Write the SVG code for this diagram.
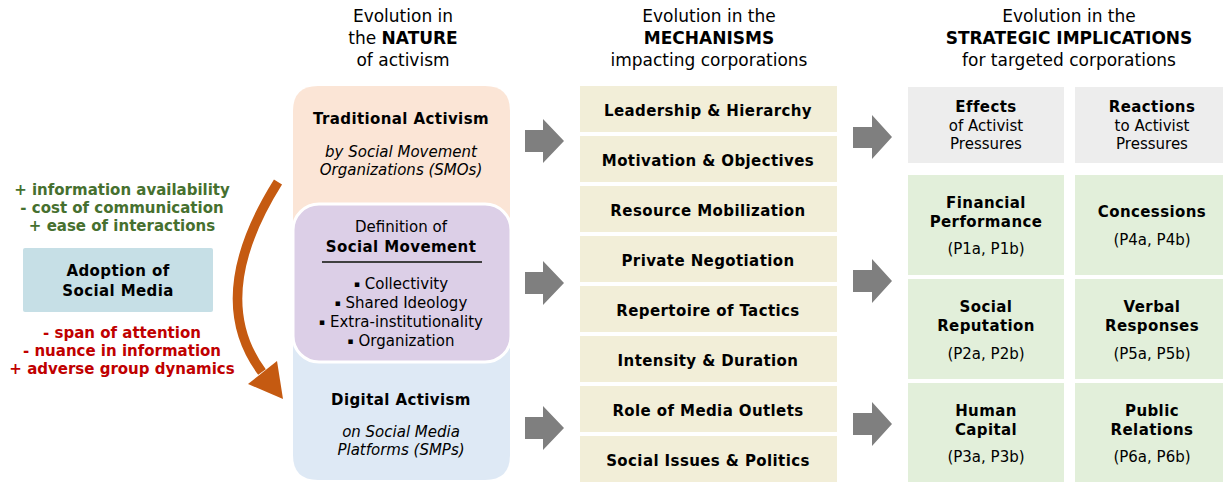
<svg xmlns="http://www.w3.org/2000/svg" width="1223" height="482" viewBox="0 0 1223 482">
  <defs>
    <style>
      text { font-family: "DejaVu Sans", Verdana, sans-serif; fill: #000; text-anchor: middle; }
      .hd { font-size: 17px; }
      .b { font-weight: bold; }
      .t { font-size: 15px; }
      .t.b { letter-spacing: 0.4px; }
      .it { font-style: italic; }
      .blt { font-size: 9px; }
      .mech { fill: #f2eed8; }
      .eff { fill: #e2efda; }
      .hdr { fill: #ededed; }
      .arr { fill: #7f7f7f; }
      .pos { fill: #46702f; font-size: 15px; font-weight: bold; }
      .neg { fill: #c00000; font-size: 15px; font-weight: bold; }
    </style>
  </defs>

  <!-- column headings -->
  <g id="heading-nature">
    <text class="hd" x="403" y="22">Evolution in</text>
    <text class="hd" x="403" y="44">the <tspan class="b">NATURE</tspan></text>
    <text class="hd" x="403" y="66">of activism</text>
  </g>
  <g id="heading-mechanisms">
    <text class="hd" x="709" y="22">Evolution in the</text>
    <text class="hd b" x="709" y="44">MECHANISMS</text>
    <text class="hd" x="709" y="66">impacting corporations</text>
  </g>
  <g id="heading-implications">
    <text class="hd" x="1069" y="22">Evolution in the</text>
    <text class="hd b" x="1069" y="44">STRATEGIC IMPLICATIONS</text>
    <text class="hd" x="1069" y="66">for targeted corporations</text>
  </g>

  <!-- social media driver -->
  <g id="drivers-positive">
    <text class="pos" x="122" y="195">+ information availability</text>
    <text class="pos" x="122" y="213">- cost of communication</text>
    <text class="pos" x="122" y="231">+ ease of interactions</text>
  </g>
  <g id="adoption">
    <rect x="23" y="248" width="190" height="64" rx="2" fill="#c6dfe6"/>
    <text class="t b" x="118" y="276">Adoption of</text>
    <text class="t b" x="118" y="296">Social Media</text>
  </g>
  <g id="drivers-negative">
    <text class="neg" x="122" y="338">- span of attention</text>
    <text class="neg" x="122" y="356">- nuance in information</text>
    <text class="neg" x="122" y="374">+ adverse group dynamics</text>
  </g>

  <!-- nature of activism -->
  <g id="traditional">
    <path d="M293 240 V111 Q293 86 318 86 H485 Q510 86 510 111 V240 Z" fill="#fbe5d6"/>
    <text class="t b" x="401" y="124">Traditional Activism</text>
    <text class="t it" x="401" y="157">by Social Movement</text>
    <text class="t it" x="401" y="175">Organizations (SMOs)</text>
  </g>
  <g id="digital">
    <path d="M293 330 V455 Q293 480 318 480 H485 Q510 480 510 455 V330 Z" fill="#dee9f5"/>
    <text class="t b" x="401" y="405">Digital Activism</text>
    <text class="t it" x="401" y="437">on Social Media</text>
    <text class="t it" x="401" y="455">Platforms (SMPs)</text>
  </g>
  <g id="definition">
    <rect x="293" y="204" width="218" height="158" rx="26" fill="#dccfe7" stroke="#ffffff" stroke-width="3"/>
    <text class="t" x="401" y="232">Definition of</text>
    <text class="t b" x="401" y="252">Social Movement</text>
    <line x1="322" y1="262" x2="482" y2="262" stroke="#404040" stroke-width="2"/>
    <text class="t" x="401" y="289"><tspan class="blt" dy="-2">▪</tspan><tspan dy="2"> Collectivity</tspan></text>
    <text class="t" x="401" y="308"><tspan class="blt" dy="-2">▪</tspan><tspan dy="2"> Shared Ideology</tspan></text>
    <text class="t" x="401" y="327"><tspan class="blt" dy="-2">▪</tspan><tspan dy="2"> Extra-institutionality</tspan></text>
    <text class="t" x="401" y="346"><tspan class="blt" dy="-2">▪</tspan><tspan dy="2"> Organization</tspan></text>
  </g>

  <!-- mechanisms -->
  <g id="mechanisms">
    <rect class="mech" x="580" y="86" width="257" height="46"/>
    <rect class="mech" x="580" y="136" width="257" height="46"/>
    <rect class="mech" x="580" y="186" width="257" height="46"/>
    <rect class="mech" x="580" y="236" width="257" height="46"/>
    <rect class="mech" x="580" y="286" width="257" height="46"/>
    <rect class="mech" x="580" y="336" width="257" height="46"/>
    <rect class="mech" x="580" y="386" width="257" height="46"/>
    <rect class="mech" x="580" y="436" width="257" height="46"/>
    <text class="t b" x="708" y="116">Leadership &amp; Hierarchy</text>
    <text class="t b" x="708" y="166">Motivation &amp; Objectives</text>
    <text class="t b" x="708" y="216">Resource Mobilization</text>
    <text class="t b" x="708" y="266">Private Negotiation</text>
    <text class="t b" x="708" y="316">Repertoire of Tactics</text>
    <text class="t b" x="708" y="366">Intensity &amp; Duration</text>
    <text class="t b" x="708" y="416">Role of Media Outlets</text>
    <text class="t b" x="708" y="466">Social Issues &amp; Politics</text>
  </g>

  <!-- strategic implications -->
  <g id="effects-header">
    <rect class="hdr" x="908" y="87" width="156" height="76"/>
    <text class="t b" x="986" y="112">Effects</text>
    <text class="t" x="986" y="131">of Activist</text>
    <text class="t" x="986" y="149">Pressures</text>
  </g>
  <g id="reactions-header">
    <rect class="hdr" x="1075" y="87" width="156" height="76"/>
    <text class="t b" x="1152" y="112">Reactions</text>
    <text class="t" x="1152" y="131">to Activist</text>
    <text class="t" x="1152" y="149">Pressures</text>
  </g>
  <g id="financial">
    <rect class="eff" x="908" y="175" width="156" height="100"/>
    <text class="t b" x="986" y="208">Financial</text>
    <text class="t b" x="986" y="227">Performance</text>
    <text class="t" x="986" y="254">(P1a, P1b)</text>
  </g>
  <g id="concessions">
    <rect class="eff" x="1075" y="175" width="156" height="100"/>
    <text class="t b" x="1152" y="217">Concessions</text>
    <text class="t" x="1152" y="245">(P4a, P4b)</text>
  </g>
  <g id="reputation">
    <rect class="eff" x="908" y="279" width="156" height="100"/>
    <text class="t b" x="986" y="312">Social</text>
    <text class="t b" x="986" y="331">Reputation</text>
    <text class="t" x="986" y="359">(P2a, P2b)</text>
  </g>
  <g id="verbal">
    <rect class="eff" x="1075" y="279" width="156" height="100"/>
    <text class="t b" x="1152" y="312">Verbal</text>
    <text class="t b" x="1152" y="331">Responses</text>
    <text class="t" x="1152" y="359">(P5a, P5b)</text>
  </g>
  <g id="human-capital">
    <rect class="eff" x="908" y="383" width="156" height="99"/>
    <text class="t b" x="986" y="416">Human</text>
    <text class="t b" x="986" y="435">Capital</text>
    <text class="t" x="986" y="462">(P3a, P3b)</text>
  </g>
  <g id="public-relations">
    <rect class="eff" x="1075" y="383" width="156" height="99"/>
    <text class="t b" x="1152" y="416">Public</text>
    <text class="t b" x="1152" y="435">Relations</text>
    <text class="t" x="1152" y="462">(P6a, P6b)</text>
  </g>

  <!-- connectors -->
  <g id="connectors">
    <path d="M278 182 Q206 297 262 372" fill="none" stroke="#c55a11" stroke-width="9.5"/>
    <polygon points="283,399 248,384 277,361" fill="#c55a11"/>
    <polygon class="arr" points="525,130 543,130 543,119 564,141 543,163 543,152 525,152"/>
    <polygon class="arr" points="525,272 543,272 543,261 564,283 543,305 543,294 525,294"/>
    <polygon class="arr" points="525,417 543,417 543,406 564,428 543,450 543,439 525,439"/>
    <polygon class="arr" points="853,127 872,127 872,115 892,137 872,159 872,148 853,148"/>
    <polygon class="arr" points="853,270 872,270 872,259 892,281 872,303 872,292 853,292"/>
    <polygon class="arr" points="853,413 872,413 872,402 892,424 872,446 872,435 853,435"/>
  </g>
</svg>
